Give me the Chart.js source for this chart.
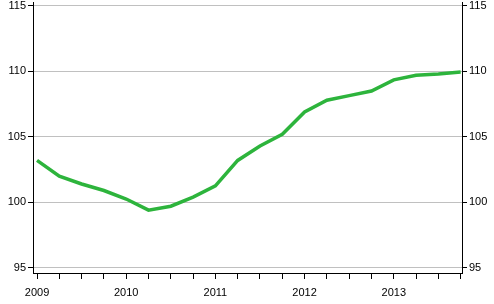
<!DOCTYPE html>
<html>
<head>
<meta charset="utf-8">
<script src="https://cdn.jsdelivr.net/npm/chart.js@4.4.1/dist/chart.umd.min.js"></script>
<style>
  html, body { margin: 0; padding: 0; background: #fff; }
  #wrap { width: 494px; height: 304px; }
</style>
</head>
<body>
<div id="wrap"><canvas id="chart" width="494" height="304"></canvas></div>
<script>
// quarterly index, 2009Q1 .. 2013Q4
const years = ['2009', '2010', '2011', '2012', '2013'];
const values = [
  103.2, 102.0, 101.4, 100.9,
  100.25, 99.4, 99.7, 100.4,
  101.25, 103.2, 104.3, 105.2,
  106.9, 107.8, 108.15, 108.5,
  109.35, 109.7, 109.8, 109.95
];
const yTicks = [95, 100, 105, 110, 115];

Chart.defaults.font.family = '"Liberation Sans", Arial, sans-serif';
Chart.defaults.font.size = 11;
Chart.defaults.color = '#000';

const points = values.map((v, i) => ({ x: i, y: v }));

function yAxis(pos, grid) {
  return {
    type: 'linear',
    position: pos,
    min: 94.6,
    max: 115.3,
    afterBuildTicks: s => { s.ticks = yTicks.map(v => ({ value: v })); },
    afterFit: s => {
      s.width = pos === 'left' ? 33 : 32;
      s.paddingTop = 0;
      s.paddingBottom = 0;
    },
    ticks: { padding: 2, color: '#000' },
    grid: {
      drawOnChartArea: grid,
      color: '#c0c0c0',
      tickColor: '#000',
      tickLength: 5,
      lineWidth: 1
    },
    border: { color: '#000', width: 1 }
  };
}

new Chart(document.getElementById('chart'), {
  type: 'line',
  data: {
    datasets: [{
      data: points,
      borderColor: 'rgb(45,180,60)',
      borderWidth: 3.5,
      pointRadius: 0,
      tension: 0
    }]
  },
  options: {
    responsive: false,
    animation: false,
    layout: { padding: { top: 2, left: 0, right: 0, bottom: 0 } },
    plugins: { legend: { display: false }, tooltip: { enabled: false } },
    scales: {
      x: {
        type: 'linear',
        min: -0.18,
        max: 19.06,
        afterBuildTicks: s => { s.ticks = values.map((v, i) => ({ value: i })); },
        afterFit: s => { s.height = 31; s.paddingLeft = 0; s.paddingRight = 0; },
        ticks: {
          autoSkip: false,
          maxRotation: 0,
          padding: 7,
          color: '#000',
          callback: v => (v % 4 === 0 ? years[v / 4] : '')
        },
        grid: { drawOnChartArea: false, tickColor: '#000', tickLength: 6 },
        border: { color: '#000', width: 1 }
      },
      y: yAxis('left', true),
      y2: yAxis('right', false)
    }
  }
});
</script>
</body>
</html>
